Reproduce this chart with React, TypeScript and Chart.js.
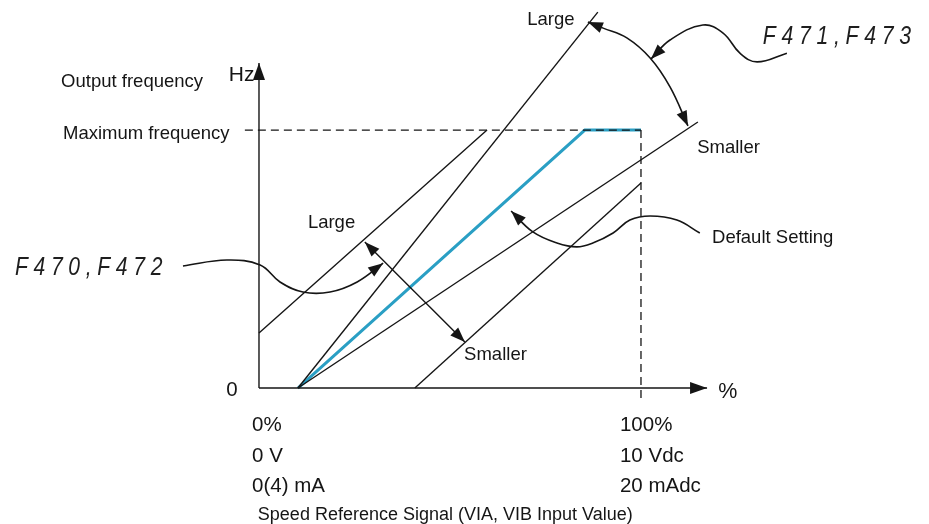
import React, { useEffect, useRef } from "react";
import { Chart, registerables } from "chart.js";

Chart.register(...registerables);

const W = 929;
const H = 524;

// Data units: x = speed reference signal (%), y = output frequency (% of max)
const X_MIN = -67.8;
const X_MAX = 175.4;
const Y_MIN = -52.7;
const Y_MAX = 150.4;

// ---- Lines -----------------------------------------------------------
const defaultSetting = [
  { x: 10.2, y: 0 },
  { x: 85.3, y: 100 },
  { x: 100, y: 100 },
];
const gainLarge = [
  { x: 10.2, y: 0 },
  { x: 88.7, y: 145.7 },
];
const gainSmaller = [
  { x: 10.2, y: 0 },
  { x: 114.9, y: 103.1 },
];
const biasLarge = [
  { x: 0, y: 21.3 },
  { x: 59.7, y: 100 },
];
const biasSmaller = [
  { x: 40.8, y: 0 },
  { x: 100, y: 79.5 },
];
const maxFreqGuide = [
  { x: -3.7, y: 100 },
  { x: 100, y: 100 },
];
const fullScaleGuide = [
  { x: 100, y: 100 },
  { x: 100, y: -4.7 },
];
const yAxisLine = [
  { x: 0, y: 0 },
  { x: 0, y: 126 },
];
const xAxisLine = [
  { x: 0, y: 0 },
  { x: 117.3, y: 0 },
];
const biasArrow = [
  { x: 27.7, y: 56.6 },
  { x: 53.9, y: 17.8 },
];

// ---- Curved pointers -------------------------------------------------
const gainArc = [
  { x: 86.1, y: 141.9 },
  { x: 90.1, y: 139.5 },
  { x: 96.3, y: 135.7 },
  { x: 102.4, y: 127.9 },
  { x: 107.6, y: 116.7 },
  { x: 112.3, y: 101.6 },
];
const gainPointer = [
  { x: 102.6, y: 127.5 },
  { x: 107.6, y: 134.9 },
  { x: 116.2, y: 140.7 },
  { x: 121.5, y: 137.6 },
  { x: 125.9, y: 129.8 },
  { x: 130.4, y: 126.4 },
  { x: 138.2, y: 129.8 },
];
const biasPointer = [
  { x: -19.9, y: 47.3 },
  { x: -8.4, y: 49.6 },
  { x: 0.3, y: 47.7 },
  { x: 5.5, y: 41.1 },
  { x: 11.5, y: 37.2 },
  { x: 18.6, y: 37.2 },
  { x: 25.7, y: 41.1 },
  { x: 32.5, y: 48.4 },
];
const defaultPointer = [
  { x: 115.4, y: 60.1 },
  { x: 109.4, y: 65.1 },
  { x: 102.4, y: 66.7 },
  { x: 97.1, y: 65.1 },
  { x: 92.7, y: 60.1 },
  { x: 87.4, y: 56.2 },
  { x: 83.2, y: 54.7 },
  { x: 78.0, y: 56.2 },
  { x: 71.7, y: 60.5 },
  { x: 66.0, y: 68.6 },
];

// ---- Texts -----------------------------------------------------------
const leftTickLabels = ["0%", "0 V", "0(4) mA"];
const rightTickLabels = ["100%", "10 Vdc", "20 mAdc"];
const tickRowY = [-14.3, -26.4, -38.0];
const tickColX = [-1.8, 94.5];
const xTitle = "Speed Reference Signal (VIA, VIB Input Value)";

const FONT = 'Arial, "Liberation Sans", sans-serif';

type Lbl = { t: string; x: number; y: number; size: number };
const labels: Lbl[] = [
  { t: "Output frequency", x: -51.8, y: 118.6, size: 18.5 },
  { t: "Hz", x: -7.9, y: 121.3, size: 21 },
  { t: "Maximum frequency", x: -51.3, y: 98.4, size: 18.5 },
  { t: "0", x: -8.6, y: -0.8, size: 20.5 },
  { t: "%", x: 120.2, y: -1.6, size: 21.5 },
  { t: "Large", x: 70.2, y: 142.6, size: 18.5 },
  { t: "Smaller", x: 114.7, y: 93.0, size: 18.5 },
  { t: "Large", x: 12.8, y: 64.0, size: 18.5 },
  { t: "Smaller", x: 53.7, y: 12.8, size: 18.5 },
  { t: "Default Setting", x: 118.6, y: 58.1, size: 18.5 },
  { t: xTitle, x: -0.3, y: -49.2, size: 18 },
  ...leftTickLabels.map((t, i) => ({ t, x: tickColX[0], y: tickRowY[i], size: 20.5 })),
  ...rightTickLabels.map((t, i) => ({ t, x: tickColX[1], y: tickRowY[i], size: 20.5 })),
];

// parameter codes shown in segment style: [text, x, y, x-end]
const paramCodes: [string, number, number, number][] = [
  ["F471,F473", 131.9, 136.0, 172.2],
  ["F470,F472", -63.9, 46.5, -23.8],
];

// arrowheads: dataset label -> which ends
const arrowEnds: Record<string, { ends: ("start" | "end")[]; len: number; half: number }> = {
  yAxis: { ends: ["end"], len: 17, half: 6 },
  xAxis: { ends: ["end"], len: 17, half: 6 },
  biasArrow: { ends: ["start", "end"], len: 15, half: 5.5 },
  gainArc: { ends: ["start", "end"], len: 15, half: 5.5 },
  gainPointer: { ends: ["start"], len: 15, half: 5.5 },
  biasPointer: { ends: ["end"], len: 15, half: 5.5 },
  defaultPointer: { ends: ["end"], len: 15, half: 5.5 },
};

const INK = "#151515";
const BLUE = "#2a9fc4";

function ds(label: string, data: { x: number; y: number }[], extra: any = {}) {
  return {
    label,
    data,
    showLine: true,
    borderColor: INK,
    borderWidth: 1.4,
    pointRadius: 0,
    pointHoverRadius: 0,
    fill: false,
    tension: 0,
    clip: false as any,
    ...extra,
  };
}

const drawPlugin = {
  id: "diagramDecor",
  afterDatasetsDraw(chart: any) {
    const ctx: CanvasRenderingContext2D = chart.ctx;
    const xs = chart.scales.x;
    const ys = chart.scales.y;

    // arrowheads
    chart.data.datasets.forEach((d: any, i: number) => {
      const spec = arrowEnds[d.label];
      if (!spec) return;
      const pts = chart.getDatasetMeta(i).data;
      if (!pts || pts.length < 2) return;
      spec.ends.forEach((end) => {
        let tip: any, ref: { x: number; y: number };
        if (end === "end") {
          tip = pts[pts.length - 1];
          const prev = pts[pts.length - 2];
          ref = { x: prev.x, y: prev.y };
        } else {
          tip = pts[0];
          const next = pts[1];
          ref = { x: next.x, y: next.y };
        }
        const dx = tip.x - ref.x;
        const dy = tip.y - ref.y;
        const L = Math.hypot(dx, dy) || 1;
        const ux = dx / L;
        const uy = dy / L;
        const bx = tip.x - ux * spec.len;
        const by = tip.y - uy * spec.len;
        ctx.save();
        ctx.fillStyle = INK;
        ctx.beginPath();
        ctx.moveTo(tip.x, tip.y);
        ctx.lineTo(bx - uy * spec.half, by + ux * spec.half);
        ctx.lineTo(bx + uy * spec.half, by - ux * spec.half);
        ctx.closePath();
        ctx.fill();
        ctx.restore();
      });
    });

    // texts
    ctx.save();
    ctx.fillStyle = INK;
    ctx.textBaseline = "middle";
    ctx.textAlign = "left";
    labels.forEach((l) => {
      ctx.font = `${l.size}px ${FONT}`;
      ctx.fillText(l.t, xs.getPixelForValue(l.x), ys.getPixelForValue(l.y));
    });
    ctx.restore();

    // segment-style parameter codes
    paramCodes.forEach(([t, x, y, xEnd]) => {
      const px = xs.getPixelForValue(x);
      const py = ys.getPixelForValue(y);
      const targetW = xs.getPixelForValue(xEnd) - px;
      ctx.save();
      ctx.fillStyle = "#1e1e1e";
      ctx.textBaseline = "middle";
      ctx.textAlign = "left";
      ctx.font = `italic 26px ${FONT}`;
      (ctx as any).letterSpacing = "7px";
      const w = ctx.measureText(t).width;
      ctx.translate(px, py);
      ctx.scale(targetW / w, 1);
      ctx.fillText(t, 0, 0);
      ctx.restore();
    });
  },
};

export default function App() {
  const ref = useRef<HTMLCanvasElement>(null);

  useEffect(() => {
    if (!ref.current) return;
    const chart = new Chart(ref.current, {
      type: "scatter",
      data: {
        datasets: [
          ds("maxFreqGuide", maxFreqGuide, { borderDash: [8, 5], borderWidth: 1.3 }),
          ds("fullScaleGuide", fullScaleGuide, { borderDash: [8, 5], borderWidth: 1.3 }),
          ds("yAxis", yAxisLine),
          ds("xAxis", xAxisLine),
          ds("gainLarge", gainLarge),
          ds("gainSmaller", gainSmaller),
          ds("biasLarge", biasLarge),
          ds("biasSmaller", biasSmaller),
          ds("biasArrow", biasArrow),
          ds("gainArc", gainArc, { tension: 0.4, borderWidth: 1.6 }),
          ds("gainPointer", gainPointer, { tension: 0.4, borderWidth: 1.6 }),
          ds("biasPointer", biasPointer, { tension: 0.4, borderWidth: 1.6 }),
          ds("defaultPointer", defaultPointer, { tension: 0.4, borderWidth: 1.6 }),
          ds("defaultSetting", defaultSetting, { borderColor: BLUE, borderWidth: 3 }),
        ] as any,
      },
      options: {
        animation: false,
        responsive: false,
        maintainAspectRatio: false,
        events: [],
        layout: { padding: 0 },
        plugins: {
          legend: { display: false },
          tooltip: { enabled: false },
        },
        scales: {
          x: { type: "linear", min: X_MIN, max: X_MAX, display: false },
          y: { type: "linear", min: Y_MIN, max: Y_MAX, display: false },
        },
      },
      plugins: [drawPlugin],
    });
    return () => chart.destroy();
  }, []);

  return (
    <div style={{ position: "absolute", left: 0, top: 0, width: W, height: H, background: "#fff" }}>
      <canvas ref={ref} width={W} height={H} style={{ display: "block", width: W, height: H }} />
    </div>
  );
}
